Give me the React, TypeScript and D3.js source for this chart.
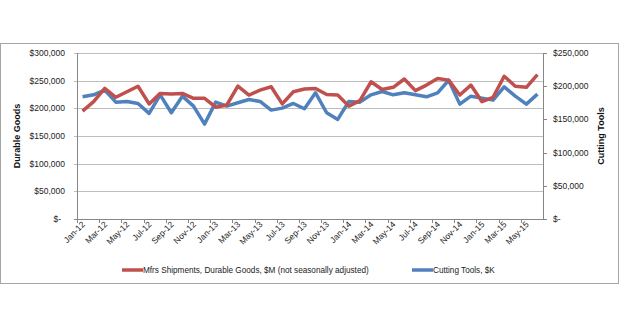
import React from "react";
import * as d3 from "d3";

const months = ["Jan","Feb","Mar","Apr","May","Jun","Jul","Aug","Sep","Oct","Nov","Dec"];
const years = ["12","13","14","15"];
const categories: string[] = [];
years.forEach((y) => months.forEach((m) => categories.push(`${m}-${y}`)));
const cats = categories.slice(0, 42);

const durableGoods = [
  195000, 212000, 236000, 220000, 230000, 240000, 208000, 227000, 226000, 227000, 218000, 218000,
  202000, 206000, 240000, 224000, 233000, 239000, 208000, 230000, 235000, 236000, 225000, 224000,
  204000, 214000, 248000, 234000, 238000, 253000, 232000, 242000, 254000, 251000, 224000, 242000,
  212000, 220000, 258000, 240000, 238000, 261000,
];
const cuttingTools = [
  184000, 187000, 194000, 176000, 177000, 174000, 159000, 187000, 160000, 185000, 170000, 143000,
  176000, 170000, 175000, 180000, 177000, 164000, 167000, 174000, 166000, 190000, 160000, 150000,
  177000, 176000, 187000, 192000, 187000, 190000, 187000, 184000, 190000, 209000, 173000, 185000,
  182000, 179000, 199000, 185000, 173000, 188000,
];
const leftTicks = [0, 50000, 100000, 150000, 200000, 250000, 300000];
const rightTicks = [0, 50000, 100000, 150000, 200000, 250000];
const seriesNames = ["Mfrs Shipments, Durable Goods, $M (not seasonally adjusted)", "Cutting Tools, $K"];
const colors = ["#C0504D", "#4F81BD"];

const fmt = (v: number) => (v === 0 ? "$-" : "$" + d3.format(",")(v));

export default function App() {
  const W = 620, H = 328;
  const left = 77, right = 543, top = 53, bottom = 219;
  const x = d3.scaleBand<string>().domain(cats).range([left, right]);
  const xc = (c: string) => (x(c) as number) + x.bandwidth() / 2;
  const yL = d3.scaleLinear().domain([0, 300000]).range([bottom, top]);
  const yR = d3.scaleLinear().domain([0, 250000]).range([bottom, top]);
  const lineL = d3.line<number>().x((_, i) => xc(cats[i])).y((d) => yL(d));
  const lineR = d3.line<number>().x((_, i) => xc(cats[i])).y((d) => yR(d));
  const font = "'Liberation Sans', Arial, sans-serif";
  const labelCats = cats.filter((_, i) => i % 2 === 0);

  return (
    <svg width={W} height={H} style={{ position: "absolute", left: 0, top: 0, display: "block", background: "#fff" }}>
      <rect x={0.5} y={43.5} width={618} height={240} fill="#fff" stroke="#a6a6a6" strokeWidth={1} />
      {leftTicks.map((t) => (
        <line key={"g" + t} x1={left - 3} x2={right} y1={Math.round(yL(t)) + 0.5} y2={Math.round(yL(t)) + 0.5}
          stroke={t === 0 ? "#868686" : "#bdbdbd"} strokeWidth={1} />
      ))}
      <line x1={left + 0.5} x2={left + 0.5} y1={top} y2={bottom} stroke="#868686" />
      <line x1={right + 0.5} x2={right + 0.5} y1={top} y2={bottom} stroke="#868686" />
      {rightTicks.map((t) => (
        <line key={"rt" + t} x1={right} x2={right + 4} y1={Math.round(yR(t)) + 0.5} y2={Math.round(yR(t)) + 0.5} stroke="#868686" />
      ))}
      {cats.map((c, i) => i % 2 === 0 ? (
        <line key={"xt" + c} x1={Math.round(x(c) as number) + 0.5} x2={Math.round(x(c) as number) + 0.5} y1={bottom} y2={bottom + 4} stroke="#868686" />
      ) : null)}
      {leftTicks.map((t) => (
        <text key={"l" + t} x={t === 0 ? 61 : 65} y={yL(t) + 3} textAnchor="end" fontFamily={font} fontSize={8.5} fill="#222">
          {fmt(t)}
        </text>
      ))}
      {rightTicks.map((t) => (
        <text key={"r" + t} x={553} y={yR(t) + 3} textAnchor="start" fontFamily={font} fontSize={8.5} fill="#222">
          {fmt(t)}
        </text>
      ))}
      {labelCats.map((c) => (
        <text key={"x" + c} transform={`translate(${xc(c) + 3},${bottom + 6}) rotate(-45)`} textAnchor="end"
          fontFamily={font} fontSize={8.5} fill="#222">
          {c}
        </text>
      ))}
      <text transform={`translate(20,${(top + bottom) / 2}) rotate(-90)`} textAnchor="middle" fontFamily={font}
        fontSize={9} fontWeight="bold" fill="#111">Durable Goods</text>
      <text transform={`translate(604,${(top + bottom) / 2}) rotate(-90)`} textAnchor="middle" fontFamily={font}
        fontSize={9} fontWeight="bold" fill="#111">Cutting Tools</text>
      <path d={lineR(cuttingTools) || ""} fill="none" stroke={colors[1]} strokeWidth={3.5} strokeLinejoin="round" />
      <path d={lineL(durableGoods) || ""} fill="none" stroke={colors[0]} strokeWidth={3.5} strokeLinejoin="round" />
      <line x1={122} x2={143} y1={270} y2={270} stroke={colors[0]} strokeWidth={3.5} />
      <text x={143} y={273} fontFamily={font} fontSize={8.2} fill="#222">{seriesNames[0]}</text>
      <line x1={412} x2={433} y1={270} y2={270} stroke={colors[1]} strokeWidth={3.5} />
      <text x={433} y={273} fontFamily={font} fontSize={8.2} fill="#222">{seriesNames[1]}</text>
    </svg>
  );
}
